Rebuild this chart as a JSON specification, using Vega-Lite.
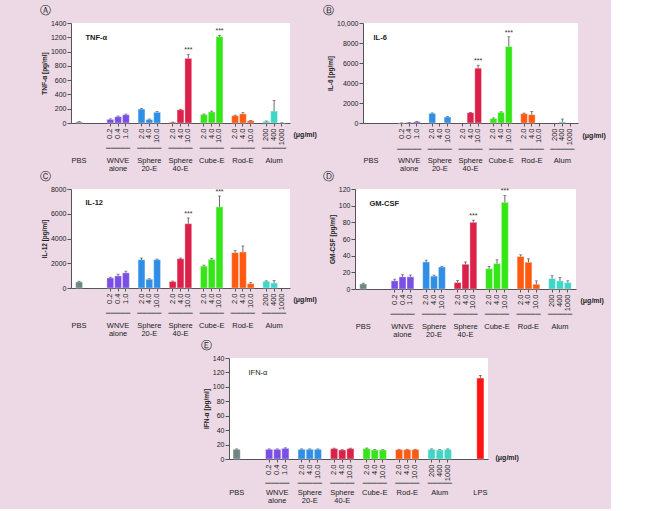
{
"$schema": "https://vega.github.io/schema/vega-lite/v6.json",
"background": "#ecd9e5",
"padding": {"left": 40, "top": 5, "right": 5, "bottom": 5},
"config": {
  "view": {"fill": "white", "stroke": null},
  "font": "Liberation Sans",
  "axis": {"labelFont": "Liberation Sans", "titleFont": "Liberation Sans", "labelColor": "#222", "titleColor": "#222", "domainColor": "#555", "tickColor": "#555", "grid": false},
  "axisY": {"labelFontSize": 7, "tickSize": 4, "labelPadding": 1, "titleFontSize": 6.5, "titleFontWeight": "bold", "titlePadding": 3, "labelOverlap": false, "labelFlush": false, "format": "d"},
  "title": {"font": "DejaVu Sans", "fontSize": 11, "fontWeight": "normal", "anchor": "start", "frame": "group", "baseline": "bottom", "offset": 3, "color": "#222"}
},
"datasets": {
  "A": [
    {"k": "PBS|", "g": "PBS", "v": 15, "hi": 20, "s": ""},
    {"k": "WNVE|0.2", "g": "WNVE", "v": 50, "hi": 58, "s": ""},
    {"k": "WNVE|0.4", "g": "WNVE", "v": 88, "hi": 98, "s": ""},
    {"k": "WNVE|1.0", "g": "WNVE", "v": 115, "hi": 125, "s": ""},
    {"k": "S20|2.0", "g": "S20", "v": 195, "hi": 205, "s": ""},
    {"k": "S20|4.0", "g": "S20", "v": 48, "hi": 56, "s": ""},
    {"k": "S20|10.0", "g": "S20", "v": 150, "hi": 162, "s": ""},
    {"k": "S40|2.0", "g": "S40", "v": 10, "hi": 13, "s": ""},
    {"k": "S40|4.0", "g": "S40", "v": 185, "hi": 193, "s": ""},
    {"k": "S40|10.0", "g": "S40", "v": 905, "hi": 962, "s": "***"},
    {"k": "Cube|2.0", "g": "Cube", "v": 118, "hi": 126, "s": ""},
    {"k": "Cube|4.0", "g": "Cube", "v": 155, "hi": 167, "s": ""},
    {"k": "Cube|10.0", "g": "Cube", "v": 1210, "hi": 1228, "s": "***"},
    {"k": "Rod|2.0", "g": "Rod", "v": 102, "hi": 110, "s": ""},
    {"k": "Rod|4.0", "g": "Rod", "v": 128, "hi": 145, "s": ""},
    {"k": "Rod|10.0", "g": "Rod", "v": 32, "hi": 37, "s": ""},
    {"k": "Alum|200", "g": "Alum", "v": 23, "hi": 28, "s": ""},
    {"k": "Alum|400", "g": "Alum", "v": 167, "hi": 315, "s": ""},
    {"k": "Alum|1000", "g": "Alum", "v": 3, "hi": 3, "s": ""}
  ],
  "B": [
    {"k": "WNVE|0.2", "g": "WNVE", "v": 10, "hi": 10, "s": ""},
    {"k": "WNVE|0.4", "g": "WNVE", "v": 50, "hi": 60, "s": ""},
    {"k": "WNVE|1.0", "g": "WNVE", "v": 130, "hi": 170, "s": ""},
    {"k": "S20|2.0", "g": "S20", "v": 960, "hi": 1010, "s": ""},
    {"k": "S20|10.0", "g": "S20", "v": 600, "hi": 640, "s": ""},
    {"k": "S40|4.0", "g": "S40", "v": 1030, "hi": 1060, "s": ""},
    {"k": "S40|10.0", "g": "S40", "v": 5480, "hi": 5780, "s": "***"},
    {"k": "Cube|2.0", "g": "Cube", "v": 450, "hi": 510, "s": ""},
    {"k": "Cube|4.0", "g": "Cube", "v": 1060, "hi": 1120, "s": ""},
    {"k": "Cube|10.0", "g": "Cube", "v": 7650, "hi": 8620, "s": "***"},
    {"k": "Rod|2.0", "g": "Rod", "v": 930, "hi": 990, "s": ""},
    {"k": "Rod|4.0", "g": "Rod", "v": 830, "hi": 1160, "s": ""},
    {"k": "Alum|400", "g": "Alum", "v": 120, "hi": 400, "s": ""}
  ],
  "C": [
    {"k": "PBS|", "g": "PBS", "v": 490, "hi": 545, "s": ""},
    {"k": "WNVE|0.2", "g": "WNVE", "v": 816, "hi": 870, "s": ""},
    {"k": "WNVE|0.4", "g": "WNVE", "v": 980, "hi": 1115, "s": ""},
    {"k": "WNVE|1.0", "g": "WNVE", "v": 1224, "hi": 1360, "s": ""},
    {"k": "S20|2.0", "g": "S20", "v": 2286, "hi": 2420, "s": ""},
    {"k": "S20|4.0", "g": "S20", "v": 707, "hi": 750, "s": ""},
    {"k": "S20|10.0", "g": "S20", "v": 2286, "hi": 2340, "s": ""},
    {"k": "S40|2.0", "g": "S40", "v": 517, "hi": 560, "s": ""},
    {"k": "S40|4.0", "g": "S40", "v": 2367, "hi": 2420, "s": ""},
    {"k": "S40|10.0", "g": "S40", "v": 5197, "hi": 5660, "s": "***"},
    {"k": "Cube|2.0", "g": "Cube", "v": 1769, "hi": 1850, "s": ""},
    {"k": "Cube|4.0", "g": "Cube", "v": 2313, "hi": 2400, "s": ""},
    {"k": "Cube|10.0", "g": "Cube", "v": 6558, "hi": 7430, "s": "***"},
    {"k": "Rod|2.0", "g": "Rod", "v": 2857, "hi": 3020, "s": ""},
    {"k": "Rod|4.0", "g": "Rod", "v": 2912, "hi": 3400, "s": ""},
    {"k": "Rod|10.0", "g": "Rod", "v": 354, "hi": 460, "s": ""},
    {"k": "Alum|200", "g": "Alum", "v": 544, "hi": 580, "s": ""},
    {"k": "Alum|400", "g": "Alum", "v": 408, "hi": 600, "s": ""}
  ],
  "D": [
    {"k": "PBS|", "g": "PBS", "v": 6.1, "hi": 7, "s": ""},
    {"k": "WNVE|0.2", "g": "WNVE", "v": 9.8, "hi": 11.8, "s": ""},
    {"k": "WNVE|0.4", "g": "WNVE", "v": 14.6, "hi": 17.1, "s": ""},
    {"k": "WNVE|1.0", "g": "WNVE", "v": 14.6, "hi": 16.7, "s": ""},
    {"k": "S20|2.0", "g": "S20", "v": 32.5, "hi": 34.6, "s": ""},
    {"k": "S20|4.0", "g": "S20", "v": 15.5, "hi": 16.7, "s": ""},
    {"k": "S20|10.0", "g": "S20", "v": 26.4, "hi": 27.3, "s": ""},
    {"k": "S40|2.0", "g": "S40", "v": 7.7, "hi": 10.2, "s": ""},
    {"k": "S40|4.0", "g": "S40", "v": 29.7, "hi": 32.5, "s": ""},
    {"k": "S40|10.0", "g": "S40", "v": 80, "hi": 82.6, "s": "***"},
    {"k": "Cube|2.0", "g": "Cube", "v": 24.4, "hi": 26.9, "s": ""},
    {"k": "Cube|4.0", "g": "Cube", "v": 30.5, "hi": 35, "s": ""},
    {"k": "Cube|10.0", "g": "Cube", "v": 104, "hi": 112.3, "s": "***"},
    {"k": "Rod|2.0", "g": "Rod", "v": 39, "hi": 41, "s": ""},
    {"k": "Rod|4.0", "g": "Rod", "v": 32.1, "hi": 36.2, "s": ""},
    {"k": "Rod|10.0", "g": "Rod", "v": 5.7, "hi": 9.8, "s": ""},
    {"k": "Alum|200", "g": "Alum", "v": 12.6, "hi": 15.9, "s": ""},
    {"k": "Alum|400", "g": "Alum", "v": 9.8, "hi": 13.8, "s": ""},
    {"k": "Alum|1000", "g": "Alum", "v": 7.7, "hi": 9.8, "s": ""}
  ],
  "E": [
    {"k": "PBS|", "g": "PBS", "v": 13.4, "hi": 14},
    {"k": "WNVE|0.2", "g": "WNVE", "v": 13.4, "hi": 14},
    {"k": "WNVE|0.4", "g": "WNVE", "v": 13.4, "hi": 14},
    {"k": "WNVE|1.0", "g": "WNVE", "v": 14.8, "hi": 15.5},
    {"k": "S20|2.0", "g": "S20", "v": 13.4, "hi": 14},
    {"k": "S20|4.0", "g": "S20", "v": 13.4, "hi": 14},
    {"k": "S20|10.0", "g": "S20", "v": 13.4, "hi": 14},
    {"k": "S40|2.0", "g": "S40", "v": 14.4, "hi": 15},
    {"k": "S40|4.0", "g": "S40", "v": 12.5, "hi": 13},
    {"k": "S40|10.0", "g": "S40", "v": 14.4, "hi": 15},
    {"k": "Cube|2.0", "g": "Cube", "v": 14.4, "hi": 15.2},
    {"k": "Cube|4.0", "g": "Cube", "v": 12.5, "hi": 13},
    {"k": "Cube|10.0", "g": "Cube", "v": 12.5, "hi": 13},
    {"k": "Rod|2.0", "g": "Rod", "v": 13, "hi": 13.5},
    {"k": "Rod|4.0", "g": "Rod", "v": 13, "hi": 13.5},
    {"k": "Rod|10.0", "g": "Rod", "v": 13, "hi": 13.5},
    {"k": "Alum|200", "g": "Alum", "v": 13.4, "hi": 14},
    {"k": "Alum|400", "g": "Alum", "v": 12.5, "hi": 13},
    {"k": "Alum|1000", "g": "Alum", "v": 13.4, "hi": 14},
    {"k": "LPS|", "g": "LPS", "v": 112.2, "hi": 115.9}
  ]
},
"spacing": 2,
"vconcat": [
{"spacing": -1, "vconcat": [
{"spacing": 6, "hconcat": [
{
  "title": {"text": "Ⓐ", "dx": -31},
  "width": 219, "height": 100,
  "data": {"name": "A"},
  "resolve": {"axis": {"x": "independent", "y": "independent"}},
  "layer": [
    {"mark": {"type": "bar", "stroke": "white", "strokeOpacity": 0.45, "strokeWidth": 0.8},
     "encoding": {
       "x": {"field": "k", "type": "nominal", "scale": {"domain": ["PBS|","g1|","g2|","g3|","WNVE|0.2","WNVE|0.4","WNVE|1.0","g4|","S20|2.0","S20|4.0","S20|10.0","g5|","S40|2.0","S40|4.0","S40|10.0","g6|","Cube|2.0","Cube|4.0","Cube|10.0","g7|","Rod|2.0","Rod|4.0","Rod|10.0","g8|","Alum|200","Alum|400","Alum|1000"], "paddingInner": 0.12, "paddingOuter": 0.6},
         "axis": {"orient": "bottom", "title": "(μg/ml)", "titleX": 222, "titleY": 11, "titleAlign": "left", "titleBaseline": "middle", "titleFontWeight": "bold", "titleFontSize": 7, "values": ["WNVE|0.2","WNVE|0.4","WNVE|1.0","S20|2.0","S20|4.0","S20|10.0","S40|2.0","S40|4.0","S40|10.0","Cube|2.0","Cube|4.0","Cube|10.0","Rod|2.0","Rod|4.0","Rod|10.0","Alum|200","Alum|400","Alum|1000"], "labelExpr": "split(datum.value,'|')[1]", "labelAngle": -90, "labelPadding": 2, "tickSize": 3, "labelFontSize": 7.5, "labelOverlap": false, "labelBound": false}},
       "y": {"field": "v", "type": "quantitative", "scale": {"domain": [0, 1400]}, "axis": {"orient": "left", "title": "TNF-α [pg/ml]", "values": [0,200,400,600,800,1000,1200,1400], "labelOverlap": false}},
       "color": {"field": "g", "type": "nominal", "scale": {"domain": ["PBS","WNVE","S20","S40","Cube","Rod","Alum","LPS"], "range": ["#6e8583","#7a4fe6","#2f8fe6","#db2149","#35e617","#ff5a12","#40d6c6","#ff1414"]}, "legend": null}
     }},
    {"mark": {"type": "rule", "color": "#444", "strokeWidth": 0.8},
     "encoding": {
       "x": {"field": "k", "type": "nominal", "scale": {"domain": ["PBS|","g1|","g2|","g3|","WNVE|0.2","WNVE|0.4","WNVE|1.0","g4|","S20|2.0","S20|4.0","S20|10.0","g5|","S40|2.0","S40|4.0","S40|10.0","g6|","Cube|2.0","Cube|4.0","Cube|10.0","g7|","Rod|2.0","Rod|4.0","Rod|10.0","g8|","Alum|200","Alum|400","Alum|1000"], "paddingInner": 0.12, "paddingOuter": 0.6},
         "axis": {"orient": "bottom", "title": "TNF-α", "titleX": 14, "titleY": -86, "titleAlign": "left", "titleBaseline": "middle", "titleFontSize": 7.5, "titleFontWeight": "bold", "values": ["PBS|","WNVE|0.4","S20|4.0","S40|4.0","Cube|4.0","Rod|4.0","Alum|400"], "labelExpr": "datum.value=='PBS|'?'PBS':datum.value=='WNVE|0.4'?['WNVE','alone']:datum.value=='S20|4.0'?['Sphere','20-E']:datum.value=='S40|4.0'?['Sphere','40-E']:datum.value=='Cube|4.0'?'Cube-E':datum.value=='Rod|4.0'?'Rod-E':datum.value=='Alum|400'?'Alum':'LPS'", "domain": false, "ticks": false, "labelPadding": 33, "labelBaseline": "top", "labelLineHeight": 8, "labelFontSize": 7.5, "labelAngle": 0, "labelOverlap": false, "labelBound": false}},
       "y": {"field": "v", "type": "quantitative", "scale": {"domain": [0, 1400]}, "axis": null},
       "y2": {"field": "hi"}
     }},
    {"mark": {"type": "tick", "color": "#444", "size": 3, "thickness": 0.8},
     "encoding": {
       "x": {"field": "k", "type": "nominal", "scale": {"domain": ["PBS|","g1|","g2|","g3|","WNVE|0.2","WNVE|0.4","WNVE|1.0","g4|","S20|2.0","S20|4.0","S20|10.0","g5|","S40|2.0","S40|4.0","S40|10.0","g6|","Cube|2.0","Cube|4.0","Cube|10.0","g7|","Rod|2.0","Rod|4.0","Rod|10.0","g8|","Alum|200","Alum|400","Alum|1000"], "paddingInner": 0.12, "paddingOuter": 0.6},
         "axis": {"orient": "bottom", "title": null, "values": ["WNVE|0.4","S20|4.0","S40|4.0","Cube|4.0","Rod|4.0","Alum|400"], "labelExpr": "'━━━━━'", "domain": false, "ticks": false, "labelPadding": 25, "labelBaseline": "middle", "labelFont": "DejaVu Sans", "labelFontSize": 8, "labelColor": "#777", "labelAngle": 0, "labelOverlap": false, "labelBound": false}},
       "y": {"field": "hi", "type": "quantitative", "scale": {"domain": [0, 1400]}, "axis": null}
     }},
    {"mark": {"type": "text", "baseline": "bottom", "dy": -1, "fontSize": 7, "color": "#333"},
     "encoding": {
       "x": {"field": "k", "type": "nominal", "scale": {"domain": ["PBS|","g1|","g2|","g3|","WNVE|0.2","WNVE|0.4","WNVE|1.0","g4|","S20|2.0","S20|4.0","S20|10.0","g5|","S40|2.0","S40|4.0","S40|10.0","g6|","Cube|2.0","Cube|4.0","Cube|10.0","g7|","Rod|2.0","Rod|4.0","Rod|10.0","g8|","Alum|200","Alum|400","Alum|1000"], "paddingInner": 0.12, "paddingOuter": 0.6}, "axis": null},
       "y": {"field": "hi", "type": "quantitative", "scale": {"domain": [0, 1400]}, "axis": null},
       "text": {"field": "s"}
     }}
  ]
},
{
  "title": {"text": "Ⓑ", "dx": -40},
  "width": 215, "height": 100,
  "data": {"name": "B"},
  "resolve": {"axis": {"x": "independent", "y": "independent"}},
  "layer": [
    {"mark": {"type": "bar", "stroke": "white", "strokeOpacity": 0.45, "strokeWidth": 0.8},
     "encoding": {
       "x": {"field": "k", "type": "nominal", "scale": {"domain": ["PBS|","g1|","g2|","g3|","WNVE|0.2","WNVE|0.4","WNVE|1.0","g4|","S20|2.0","S20|4.0","S20|10.0","g5|","S40|2.0","S40|4.0","S40|10.0","g6|","Cube|2.0","Cube|4.0","Cube|10.0","g7|","Rod|2.0","Rod|4.0","Rod|10.0","g8|","Alum|200","Alum|400","Alum|1000"], "paddingInner": 0.12, "paddingOuter": 0.6},
         "axis": {"orient": "bottom", "title": "(μg/ml)", "titleX": 219, "titleY": 12, "titleAlign": "left", "titleBaseline": "middle", "titleFontWeight": "bold", "titleFontSize": 7, "values": ["WNVE|0.2","WNVE|0.4","WNVE|1.0","S20|2.0","S20|4.0","S20|10.0","S40|2.0","S40|4.0","S40|10.0","Cube|2.0","Cube|4.0","Cube|10.0","Rod|2.0","Rod|4.0","Rod|10.0","Alum|200","Alum|400","Alum|1000"], "labelExpr": "split(datum.value,'|')[1]", "labelAngle": -90, "labelPadding": 2, "tickSize": 3, "labelFontSize": 7.5, "labelOverlap": false, "labelBound": false}},
       "y": {"field": "v", "type": "quantitative", "scale": {"domain": [0, 10000]}, "axis": {"orient": "left", "title": "IL-6 [pg/ml]", "values": [0,2000,4000,6000,8000,10000], "labelOverlap": false, "labelExpr": "datum.value>=10000?format(datum.value,','):format(datum.value,'d')"}},
       "color": {"field": "g", "type": "nominal", "scale": {"domain": ["PBS","WNVE","S20","S40","Cube","Rod","Alum","LPS"], "range": ["#6e8583","#7a4fe6","#2f8fe6","#db2149","#35e617","#ff5a12","#40d6c6","#ff1414"]}, "legend": null}
     }},
    {"mark": {"type": "rule", "color": "#444", "strokeWidth": 0.8},
     "encoding": {
       "x": {"field": "k", "type": "nominal", "scale": {"domain": ["PBS|","g1|","g2|","g3|","WNVE|0.2","WNVE|0.4","WNVE|1.0","g4|","S20|2.0","S20|4.0","S20|10.0","g5|","S40|2.0","S40|4.0","S40|10.0","g6|","Cube|2.0","Cube|4.0","Cube|10.0","g7|","Rod|2.0","Rod|4.0","Rod|10.0","g8|","Alum|200","Alum|400","Alum|1000"], "paddingInner": 0.12, "paddingOuter": 0.6},
         "axis": {"orient": "bottom", "title": "IL-6", "titleX": 10, "titleY": -86, "titleAlign": "left", "titleBaseline": "middle", "titleFontSize": 7.5, "titleFontWeight": "bold", "values": ["PBS|","WNVE|0.4","S20|4.0","S40|4.0","Cube|4.0","Rod|4.0","Alum|400"], "labelExpr": "datum.value=='PBS|'?'PBS':datum.value=='WNVE|0.4'?['WNVE','alone']:datum.value=='S20|4.0'?['Sphere','20-E']:datum.value=='S40|4.0'?['Sphere','40-E']:datum.value=='Cube|4.0'?'Cube-E':datum.value=='Rod|4.0'?'Rod-E':datum.value=='Alum|400'?'Alum':'LPS'", "domain": false, "ticks": false, "labelPadding": 33, "labelBaseline": "top", "labelLineHeight": 8, "labelFontSize": 7.5, "labelAngle": 0, "labelOverlap": false, "labelBound": false}},
       "y": {"field": "v", "type": "quantitative", "scale": {"domain": [0, 10000]}, "axis": null},
       "y2": {"field": "hi"}
     }},
    {"mark": {"type": "tick", "color": "#444", "size": 3, "thickness": 0.8},
     "encoding": {
       "x": {"field": "k", "type": "nominal", "scale": {"domain": ["PBS|","g1|","g2|","g3|","WNVE|0.2","WNVE|0.4","WNVE|1.0","g4|","S20|2.0","S20|4.0","S20|10.0","g5|","S40|2.0","S40|4.0","S40|10.0","g6|","Cube|2.0","Cube|4.0","Cube|10.0","g7|","Rod|2.0","Rod|4.0","Rod|10.0","g8|","Alum|200","Alum|400","Alum|1000"], "paddingInner": 0.12, "paddingOuter": 0.6},
         "axis": {"orient": "bottom", "title": null, "values": ["WNVE|0.4","S20|4.0","S40|4.0","Cube|4.0","Rod|4.0","Alum|400"], "labelExpr": "'━━━━━'", "domain": false, "ticks": false, "labelPadding": 26, "labelBaseline": "middle", "labelFont": "DejaVu Sans", "labelFontSize": 8, "labelColor": "#777", "labelAngle": 0, "labelOverlap": false, "labelBound": false}},
       "y": {"field": "hi", "type": "quantitative", "scale": {"domain": [0, 10000]}, "axis": null}
     }},
    {"mark": {"type": "text", "baseline": "bottom", "dy": -1, "fontSize": 7, "color": "#333"},
     "encoding": {
       "x": {"field": "k", "type": "nominal", "scale": {"domain": ["PBS|","g1|","g2|","g3|","WNVE|0.2","WNVE|0.4","WNVE|1.0","g4|","S20|2.0","S20|4.0","S20|10.0","g5|","S40|2.0","S40|4.0","S40|10.0","g6|","Cube|2.0","Cube|4.0","Cube|10.0","g7|","Rod|2.0","Rod|4.0","Rod|10.0","g8|","Alum|200","Alum|400","Alum|1000"], "paddingInner": 0.12, "paddingOuter": 0.6}, "axis": null},
       "y": {"field": "hi", "type": "quantitative", "scale": {"domain": [0, 10000]}, "axis": null},
       "text": {"field": "s"}
     }}
  ]
}
]},
{"spacing": 6, "hconcat": [
{
  "title": {"text": "Ⓒ", "dx": -31},
  "width": 219, "height": 99,
  "data": {"name": "C"},
  "resolve": {"axis": {"x": "independent", "y": "independent"}},
  "layer": [
    {"mark": {"type": "bar", "stroke": "white", "strokeOpacity": 0.45, "strokeWidth": 0.8},
     "encoding": {
       "x": {"field": "k", "type": "nominal", "scale": {"domain": ["PBS|","g1|","g2|","g3|","WNVE|0.2","WNVE|0.4","WNVE|1.0","g4|","S20|2.0","S20|4.0","S20|10.0","g5|","S40|2.0","S40|4.0","S40|10.0","g6|","Cube|2.0","Cube|4.0","Cube|10.0","g7|","Rod|2.0","Rod|4.0","Rod|10.0","g8|","Alum|200","Alum|400","Alum|1000"], "paddingInner": 0.12, "paddingOuter": 0.6},
         "axis": {"orient": "bottom", "title": "(μg/ml)", "titleX": 222, "titleY": 11, "titleAlign": "left", "titleBaseline": "middle", "titleFontWeight": "bold", "titleFontSize": 7, "values": ["WNVE|0.2","WNVE|0.4","WNVE|1.0","S20|2.0","S20|4.0","S20|10.0","S40|2.0","S40|4.0","S40|10.0","Cube|2.0","Cube|4.0","Cube|10.0","Rod|2.0","Rod|4.0","Rod|10.0","Alum|200","Alum|400","Alum|1000"], "labelExpr": "split(datum.value,'|')[1]", "labelAngle": -90, "labelPadding": 2, "tickSize": 3, "labelFontSize": 7.5, "labelOverlap": false, "labelBound": false}},
       "y": {"field": "v", "type": "quantitative", "scale": {"domain": [0, 8000]}, "axis": {"orient": "left", "title": "IL-12 [pg/ml]", "values": [0,2000,4000,6000,8000], "labelOverlap": false}},
       "color": {"field": "g", "type": "nominal", "scale": {"domain": ["PBS","WNVE","S20","S40","Cube","Rod","Alum","LPS"], "range": ["#6e8583","#7a4fe6","#2f8fe6","#db2149","#35e617","#ff5a12","#40d6c6","#ff1414"]}, "legend": null}
     }},
    {"mark": {"type": "rule", "color": "#444", "strokeWidth": 0.8},
     "encoding": {
       "x": {"field": "k", "type": "nominal", "scale": {"domain": ["PBS|","g1|","g2|","g3|","WNVE|0.2","WNVE|0.4","WNVE|1.0","g4|","S20|2.0","S20|4.0","S20|10.0","g5|","S40|2.0","S40|4.0","S40|10.0","g6|","Cube|2.0","Cube|4.0","Cube|10.0","g7|","Rod|2.0","Rod|4.0","Rod|10.0","g8|","Alum|200","Alum|400","Alum|1000"], "paddingInner": 0.12, "paddingOuter": 0.6},
         "axis": {"orient": "bottom", "title": "IL-12", "titleX": 14, "titleY": -86, "titleAlign": "left", "titleBaseline": "middle", "titleFontSize": 7.5, "titleFontWeight": "bold", "values": ["PBS|","WNVE|0.4","S20|4.0","S40|4.0","Cube|4.0","Rod|4.0","Alum|400"], "labelExpr": "datum.value=='PBS|'?'PBS':datum.value=='WNVE|0.4'?['WNVE','alone']:datum.value=='S20|4.0'?['Sphere','20-E']:datum.value=='S40|4.0'?['Sphere','40-E']:datum.value=='Cube|4.0'?'Cube-E':datum.value=='Rod|4.0'?'Rod-E':datum.value=='Alum|400'?'Alum':'LPS'", "domain": false, "ticks": false, "labelPadding": 33, "labelBaseline": "top", "labelLineHeight": 8, "labelFontSize": 7.5, "labelAngle": 0, "labelOverlap": false, "labelBound": false}},
       "y": {"field": "v", "type": "quantitative", "scale": {"domain": [0, 8000]}, "axis": null},
       "y2": {"field": "hi"}
     }},
    {"mark": {"type": "tick", "color": "#444", "size": 3, "thickness": 0.8},
     "encoding": {
       "x": {"field": "k", "type": "nominal", "scale": {"domain": ["PBS|","g1|","g2|","g3|","WNVE|0.2","WNVE|0.4","WNVE|1.0","g4|","S20|2.0","S20|4.0","S20|10.0","g5|","S40|2.0","S40|4.0","S40|10.0","g6|","Cube|2.0","Cube|4.0","Cube|10.0","g7|","Rod|2.0","Rod|4.0","Rod|10.0","g8|","Alum|200","Alum|400","Alum|1000"], "paddingInner": 0.12, "paddingOuter": 0.6},
         "axis": {"orient": "bottom", "title": null, "values": ["WNVE|0.4","S20|4.0","S40|4.0","Cube|4.0","Rod|4.0","Alum|400"], "labelExpr": "'━━━━━'", "domain": false, "ticks": false, "labelPadding": 25, "labelBaseline": "middle", "labelFont": "DejaVu Sans", "labelFontSize": 8, "labelColor": "#777", "labelAngle": 0, "labelOverlap": false, "labelBound": false}},
       "y": {"field": "hi", "type": "quantitative", "scale": {"domain": [0, 8000]}, "axis": null}
     }},
    {"mark": {"type": "text", "baseline": "bottom", "dy": -1, "fontSize": 7, "color": "#333"},
     "encoding": {
       "x": {"field": "k", "type": "nominal", "scale": {"domain": ["PBS|","g1|","g2|","g3|","WNVE|0.2","WNVE|0.4","WNVE|1.0","g4|","S20|2.0","S20|4.0","S20|10.0","g5|","S40|2.0","S40|4.0","S40|10.0","g6|","Cube|2.0","Cube|4.0","Cube|10.0","g7|","Rod|2.0","Rod|4.0","Rod|10.0","g8|","Alum|200","Alum|400","Alum|1000"], "paddingInner": 0.12, "paddingOuter": 0.6}, "axis": null},
       "y": {"field": "hi", "type": "quantitative", "scale": {"domain": [0, 8000]}, "axis": null},
       "text": {"field": "s"}
     }}
  ]
},
{
  "title": {"text": "Ⓓ", "dx": -32},
  "width": 221, "height": 100,
  "data": {"name": "D"},
  "resolve": {"axis": {"x": "independent", "y": "independent"}},
  "layer": [
    {"mark": {"type": "bar", "stroke": "white", "strokeOpacity": 0.45, "strokeWidth": 0.8},
     "encoding": {
       "x": {"field": "k", "type": "nominal", "scale": {"domain": ["PBS|","g1|","g2|","g3|","WNVE|0.2","WNVE|0.4","WNVE|1.0","g4|","S20|2.0","S20|4.0","S20|10.0","g5|","S40|2.0","S40|4.0","S40|10.0","g6|","Cube|2.0","Cube|4.0","Cube|10.0","g7|","Rod|2.0","Rod|4.0","Rod|10.0","g8|","Alum|200","Alum|400","Alum|1000"], "paddingInner": 0.12, "paddingOuter": 0.6},
         "axis": {"orient": "bottom", "title": "(μg/ml)", "titleX": 225, "titleY": 11, "titleAlign": "left", "titleBaseline": "middle", "titleFontWeight": "bold", "titleFontSize": 7, "values": ["WNVE|0.2","WNVE|0.4","WNVE|1.0","S20|2.0","S20|4.0","S20|10.0","S40|2.0","S40|4.0","S40|10.0","Cube|2.0","Cube|4.0","Cube|10.0","Rod|2.0","Rod|4.0","Rod|10.0","Alum|200","Alum|400","Alum|1000"], "labelExpr": "split(datum.value,'|')[1]", "labelAngle": -90, "labelPadding": 2, "tickSize": 3, "labelFontSize": 7.5, "labelOverlap": false, "labelBound": false}},
       "y": {"field": "v", "type": "quantitative", "scale": {"domain": [0, 120]}, "axis": {"orient": "left", "title": "GM-CSF [pg/ml]", "values": [0,20,40,60,80,100,120], "labelOverlap": false}},
       "color": {"field": "g", "type": "nominal", "scale": {"domain": ["PBS","WNVE","S20","S40","Cube","Rod","Alum","LPS"], "range": ["#6e8583","#7a4fe6","#2f8fe6","#db2149","#35e617","#ff5a12","#40d6c6","#ff1414"]}, "legend": null}
     }},
    {"mark": {"type": "rule", "color": "#444", "strokeWidth": 0.8},
     "encoding": {
       "x": {"field": "k", "type": "nominal", "scale": {"domain": ["PBS|","g1|","g2|","g3|","WNVE|0.2","WNVE|0.4","WNVE|1.0","g4|","S20|2.0","S20|4.0","S20|10.0","g5|","S40|2.0","S40|4.0","S40|10.0","g6|","Cube|2.0","Cube|4.0","Cube|10.0","g7|","Rod|2.0","Rod|4.0","Rod|10.0","g8|","Alum|200","Alum|400","Alum|1000"], "paddingInner": 0.12, "paddingOuter": 0.6},
         "axis": {"orient": "bottom", "title": "GM-CSF", "titleX": 14, "titleY": -86, "titleAlign": "left", "titleBaseline": "middle", "titleFontSize": 7.5, "titleFontWeight": "bold", "values": ["PBS|","WNVE|0.4","S20|4.0","S40|4.0","Cube|4.0","Rod|4.0","Alum|400"], "labelExpr": "datum.value=='PBS|'?'PBS':datum.value=='WNVE|0.4'?['WNVE','alone']:datum.value=='S20|4.0'?['Sphere','20-E']:datum.value=='S40|4.0'?['Sphere','40-E']:datum.value=='Cube|4.0'?'Cube-E':datum.value=='Rod|4.0'?'Rod-E':datum.value=='Alum|400'?'Alum':'LPS'", "domain": false, "ticks": false, "labelPadding": 33, "labelBaseline": "top", "labelLineHeight": 8, "labelFontSize": 7.5, "labelAngle": 0, "labelOverlap": false, "labelBound": false}},
       "y": {"field": "v", "type": "quantitative", "scale": {"domain": [0, 120]}, "axis": null},
       "y2": {"field": "hi"}
     }},
    {"mark": {"type": "tick", "color": "#444", "size": 3, "thickness": 0.8},
     "encoding": {
       "x": {"field": "k", "type": "nominal", "scale": {"domain": ["PBS|","g1|","g2|","g3|","WNVE|0.2","WNVE|0.4","WNVE|1.0","g4|","S20|2.0","S20|4.0","S20|10.0","g5|","S40|2.0","S40|4.0","S40|10.0","g6|","Cube|2.0","Cube|4.0","Cube|10.0","g7|","Rod|2.0","Rod|4.0","Rod|10.0","g8|","Alum|200","Alum|400","Alum|1000"], "paddingInner": 0.12, "paddingOuter": 0.6},
         "axis": {"orient": "bottom", "title": null, "values": ["WNVE|0.4","S20|4.0","S40|4.0","Cube|4.0","Rod|4.0","Alum|400"], "labelExpr": "'━━━━━'", "domain": false, "ticks": false, "labelPadding": 25, "labelBaseline": "middle", "labelFont": "DejaVu Sans", "labelFontSize": 8, "labelColor": "#777", "labelAngle": 0, "labelOverlap": false, "labelBound": false}},
       "y": {"field": "hi", "type": "quantitative", "scale": {"domain": [0, 120]}, "axis": null}
     }},
    {"mark": {"type": "text", "baseline": "bottom", "dy": -1, "fontSize": 7, "color": "#333"},
     "encoding": {
       "x": {"field": "k", "type": "nominal", "scale": {"domain": ["PBS|","g1|","g2|","g3|","WNVE|0.2","WNVE|0.4","WNVE|1.0","g4|","S20|2.0","S20|4.0","S20|10.0","g5|","S40|2.0","S40|4.0","S40|10.0","g6|","Cube|2.0","Cube|4.0","Cube|10.0","g7|","Rod|2.0","Rod|4.0","Rod|10.0","g8|","Alum|200","Alum|400","Alum|1000"], "paddingInner": 0.12, "paddingOuter": 0.6}, "axis": null},
       "y": {"field": "hi", "type": "quantitative", "scale": {"domain": [0, 120]}, "axis": null},
       "text": {"field": "s"}
     }}
  ]
}
]}
]},
{"spacing": 0, "hconcat": [
{"data": {"values": []}, "mark": "point", "width": 130, "height": 20, "view": {"fill": null, "stroke": null}},
{
  "title": {"text": "Ⓔ", "dx": -28},
  "width": 259, "height": 101,
  "data": {"name": "E"},
  "resolve": {"axis": {"x": "independent", "y": "independent"}},
  "layer": [
    {"mark": {"type": "bar", "stroke": "white", "strokeOpacity": 0.45, "strokeWidth": 0.8},
     "encoding": {
       "x": {"field": "k", "type": "nominal", "scale": {"domain": ["PBS|","g1|","g2|","g3|","WNVE|0.2","WNVE|0.4","WNVE|1.0","g4|","S20|2.0","S20|4.0","S20|10.0","g5|","S40|2.0","S40|4.0","S40|10.0","g6|","Cube|2.0","Cube|4.0","Cube|10.0","g7|","Rod|2.0","Rod|4.0","Rod|10.0","g8|","Alum|200","Alum|400","Alum|1000","g9|","g10|","g11|","LPS|"], "paddingInner": 0.12, "paddingOuter": 0.5},
         "axis": {"orient": "bottom", "title": "(μg/ml)", "titleX": 266, "titleY": -2, "titleAlign": "left", "titleBaseline": "middle", "titleFontWeight": "bold", "titleFontSize": 7, "values": ["WNVE|0.2","WNVE|0.4","WNVE|1.0","S20|2.0","S20|4.0","S20|10.0","S40|2.0","S40|4.0","S40|10.0","Cube|2.0","Cube|4.0","Cube|10.0","Rod|2.0","Rod|4.0","Rod|10.0","Alum|200","Alum|400","Alum|1000"], "labelExpr": "split(datum.value,'|')[1]", "labelAngle": -90, "labelPadding": 2, "tickSize": 3, "labelFontSize": 7.5, "labelOverlap": false, "labelBound": false}},
       "y": {"field": "v", "type": "quantitative", "scale": {"domain": [0, 140]}, "axis": {"orient": "left", "title": "IFN-α [pg/ml]", "values": [0,20,40,60,80,100,120,140], "labelOverlap": false}},
       "color": {"field": "g", "type": "nominal", "scale": {"domain": ["PBS","WNVE","S20","S40","Cube","Rod","Alum","LPS"], "range": ["#6e8583","#7a4fe6","#2f8fe6","#db2149","#35e617","#ff5a12","#40d6c6","#ff1414"]}, "legend": null}
     }},
    {"mark": {"type": "rule", "color": "#444", "strokeWidth": 0.8},
     "encoding": {
       "x": {"field": "k", "type": "nominal", "scale": {"domain": ["PBS|","g1|","g2|","g3|","WNVE|0.2","WNVE|0.4","WNVE|1.0","g4|","S20|2.0","S20|4.0","S20|10.0","g5|","S40|2.0","S40|4.0","S40|10.0","g6|","Cube|2.0","Cube|4.0","Cube|10.0","g7|","Rod|2.0","Rod|4.0","Rod|10.0","g8|","Alum|200","Alum|400","Alum|1000","g9|","g10|","g11|","LPS|"], "paddingInner": 0.12, "paddingOuter": 0.5},
         "axis": {"orient": "bottom", "title": "IFN-α", "titleX": 19, "titleY": -87, "titleAlign": "left", "titleBaseline": "middle", "titleFontSize": 7.5, "titleFontWeight": "normal", "values": ["PBS|","WNVE|0.4","S20|4.0","S40|4.0","Cube|4.0","Rod|4.0","Alum|400","LPS|"], "labelExpr": "datum.value=='PBS|'?'PBS':datum.value=='WNVE|0.4'?['WNVE','alone']:datum.value=='S20|4.0'?['Sphere','20-E']:datum.value=='S40|4.0'?['Sphere','40-E']:datum.value=='Cube|4.0'?'Cube-E':datum.value=='Rod|4.0'?'Rod-E':datum.value=='Alum|400'?'Alum':'LPS'", "domain": false, "ticks": false, "labelPadding": 29, "labelBaseline": "top", "labelLineHeight": 8, "labelFontSize": 7.5, "labelAngle": 0, "labelOverlap": false, "labelBound": false}},
       "y": {"field": "v", "type": "quantitative", "scale": {"domain": [0, 140]}, "axis": null},
       "y2": {"field": "hi"}
     }},
    {"mark": {"type": "tick", "color": "#444", "size": 3, "thickness": 0.8},
     "encoding": {
       "x": {"field": "k", "type": "nominal", "scale": {"domain": ["PBS|","g1|","g2|","g3|","WNVE|0.2","WNVE|0.4","WNVE|1.0","g4|","S20|2.0","S20|4.0","S20|10.0","g5|","S40|2.0","S40|4.0","S40|10.0","g6|","Cube|2.0","Cube|4.0","Cube|10.0","g7|","Rod|2.0","Rod|4.0","Rod|10.0","g8|","Alum|200","Alum|400","Alum|1000","g9|","g10|","g11|","LPS|"], "paddingInner": 0.12, "paddingOuter": 0.5},
         "axis": {"orient": "bottom", "title": null, "values": ["WNVE|0.4","S20|4.0","S40|4.0","Cube|4.0","Rod|4.0","Alum|400"], "labelExpr": "'━━━━━'", "domain": false, "ticks": false, "labelPadding": 24, "labelBaseline": "middle", "labelFont": "DejaVu Sans", "labelFontSize": 8, "labelColor": "#777", "labelAngle": 0, "labelOverlap": false, "labelBound": false}},
       "y": {"field": "hi", "type": "quantitative", "scale": {"domain": [0, 140]}, "axis": null}
     }}
  ]
}
]}
]
}
